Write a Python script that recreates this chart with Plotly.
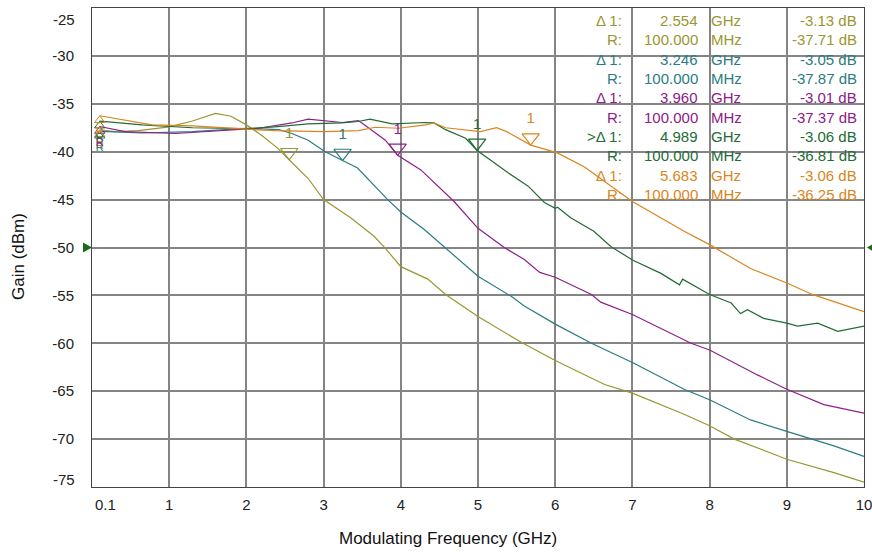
import plotly.graph_objects as go

# ---------------- data ----------------
olive_f = [0.1, 0.3, 0.6, 1.0, 1.3, 1.6, 1.8, 2.0, 2.2, 2.4, 2.554, 2.8, 3.0, 3.35, 3.65, 3.78, 4.0, 4.35, 4.58,
           5.0, 5.56, 6.0, 6.64, 7.0, 7.67, 8.0, 8.32, 9.0, 9.61, 10.0]
olive_db = [-37.71, -37.9, -37.8, -37.4, -36.8, -36.0, -36.3, -37.2, -38.3, -39.6, -40.84, -42.8, -45.0, -46.9, -48.8,
            -49.9, -52.0, -53.3, -54.9, -57.2, -59.9, -61.8, -64.3, -65.2, -67.4, -68.6, -70.0, -72.1, -73.5, -74.5]

teal_f = [0.1, 0.65, 1.3, 2.0, 2.42, 2.59, 2.8, 3.02, 3.246, 3.44, 3.83, 4.0, 4.3, 4.6, 5.0, 5.43, 5.6, 6.0, 6.47,
          7.0, 7.67, 8.0, 8.53, 9.0, 9.61, 10.0]
teal_db = [-37.87, -38.05, -37.9, -37.55, -37.7, -38.1, -38.8, -40.0, -40.92, -41.7, -45.0, -46.3, -48.1, -50.2, -53.0,
           -55.1, -56.1, -58.0, -60.0, -62.0, -64.8, -65.9, -68.0, -69.2, -70.7, -71.8]

purple_f = [0.1, 0.43, 1.08, 1.73, 2.16, 2.59, 2.8, 3.24, 3.45, 3.58, 3.8, 3.96, 4.26, 4.69, 5.0, 5.34, 5.6, 5.8, 6.0,
            6.47, 6.59, 7.0, 7.41, 7.76, 8.0, 8.62, 9.0, 9.48, 10.0]
purple_db = [-37.37, -37.9, -38.1, -37.8, -37.55, -37.0, -36.6, -36.95, -36.75, -37.5, -38.8, -40.38, -41.9, -45.2,
             -48.0, -50.0, -51.25, -52.6, -53.1, -54.9, -55.7, -57.0, -58.6, -60.0, -60.7, -63.3, -64.8, -66.4, -67.3]

green_f = [0.1, 0.65, 1.3, 2.0, 2.37, 2.8, 3.24, 3.45, 3.6, 3.89, 4.32, 4.43, 4.58, 4.84, 4.989, 5.39, 5.65, 5.86,
           6.0, 6.03, 6.2, 6.5, 6.72, 7.0, 7.37, 7.61, 7.65, 8.0, 8.28, 8.4, 8.49, 8.7, 9.0, 9.14, 9.4, 9.66, 10.0]
green_db = [-36.81, -37.2, -37.5, -37.6, -37.4, -37.1, -37.0, -36.85, -36.6, -37.1, -36.95, -37.0, -37.7, -38.6,
            -39.87, -42.2, -43.6, -45.3, -45.9, -45.8, -46.9, -48.3, -49.9, -51.3, -52.7, -53.9, -53.3, -54.9, -55.8,
            -56.9, -56.5, -57.4, -57.9, -58.2, -57.9, -58.75, -58.2]

orange_f = [0.1, 0.43, 0.78, 1.3, 1.73, 2.0, 2.37, 3.0, 3.45, 3.67, 3.97, 4.32, 4.43, 4.58, 5.03, 5.24, 5.37, 5.683,
            6.02, 6.38, 7.0, 7.67, 8.0, 8.53, 9.0, 9.33, 10.0]
orange_db = [-36.25, -36.7, -37.2, -37.3, -37.55, -37.65, -37.8, -37.9, -37.8, -37.45, -37.55, -37.2, -37.0, -37.5,
             -37.9, -37.5, -37.9, -39.31, -40.1, -41.6, -45.2, -48.3, -49.7, -52.2, -53.7, -54.9, -56.7]

marker_freqs = [2.554, 3.246, 3.960, 4.989, 5.683]      # GHz
marker_deltas = [-3.13, -3.05, -3.01, -3.06, -3.06]     # dB
ref_levels = [-37.71, -37.87, -37.37, -36.81, -36.25]   # dB at reference
ref_freq_mhz = 100.0
ref_line_db = -50
delta_prefix = ["Δ 1:", "Δ 1:", "Δ 1:", ">Δ 1:", "Δ 1:"]

x_ticks = [1, 2, 3, 4, 5, 6, 7, 8, 9, 10]
x_start_label = "0.1"
y_ticks = [-30, -35, -40, -45, -50, -55, -60, -65, -70]
y_edge_ticks = [-25, -75]

# ---------------- style ----------------
colors = ["#9a9632", "#2a7c82", "#8e2088", "#236b36", "#d9861c"]
curves = [(olive_f, olive_db), (teal_f, teal_db), (purple_f, purple_db), (green_f, green_db), (orange_f, orange_db)]

W, H = 872, 552
ML, MR, MT, MB = 92, 8, 8, 65
PW, PH = W - ML - MR, H - MT - MB
YMIN, YMAX = -75, -25
px_per_db = PH / (YMAX - YMIN)
FONT = "Liberation Sans, Arial, sans-serif"


def px_to_paper_x(px):
    return (px - ML) / PW


def py_to_paper_y(py):
    return 1 - (py - MT) / PH


fig = go.Figure()

for (f, d), c in zip(curves, colors):
    fig.add_trace(go.Scatter(x=f, y=d, mode="lines", line=dict(color=c, width=1.2),
                             hoverinfo="skip", showlegend=False))

# delta markers (open down-triangles, tip on the trace) with "1" labels
MSIZE = 15
for fm, dl, rl, c in zip(marker_freqs, marker_deltas, ref_levels, colors):
    y_tip = rl + dl
    fig.add_trace(go.Scatter(
        x=[fm], y=[y_tip + (MSIZE / 2) / px_per_db], mode="markers+text",
        marker=dict(symbol="triangle-down-open", size=MSIZE, color=c, line=dict(width=1.2, color=c)),
        text=["1"], textposition="top center", textfont=dict(family=FONT, size=15, color=c),
        hoverinfo="skip", showlegend=False, cliponaxis=False))

# reference markers at start frequency
RSIZE = 9
for rl, (f, d), c in zip(ref_levels, curves, colors):
    fig.add_trace(go.Scatter(
        x=[f[0]], y=[rl - (RSIZE / 2) / px_per_db], mode="markers+text",
        marker=dict(symbol="triangle-up-open", size=RSIZE, color=c, line=dict(width=1, color=c)),
        text=["R"], textposition="bottom center", textfont=dict(family=FONT, size=11, color=c),
        hoverinfo="skip", showlegend=False, cliponaxis=False))

annotations = []
# marker table
col_label_px, col_val_px, col_unit_px, col_db_px = 624, 700, 709, 859
row0_py, row_step = 20.5, 19.35
for i, (fm, dl, rl, c, pre) in enumerate(zip(marker_freqs, marker_deltas, ref_levels, colors, delta_prefix)):
    rows = [(pre, f"{fm:.3f}", "GHz", f"{dl:.2f} dB"),
            ("R:", f"{ref_freq_mhz:.3f}", "MHz", f"{rl:.2f} dB")]
    for j, (lab, val, unit, db) in enumerate(rows):
        py = row0_py + (2 * i + j) * row_step
        yp = py_to_paper_y(py)
        for txt, px, anc in [(lab, col_label_px, "right"), (val, col_val_px, "right"),
                             (unit, col_unit_px, "left"), (db, col_db_px, "right")]:
            annotations.append(dict(text=txt, x=px_to_paper_x(px), y=yp, xref="paper", yref="paper",
                                    xanchor=anc, yanchor="middle", showarrow=False,
                                    font=dict(family=FONT, size=15, color=c)))

# edge y tick labels (shifted inward like the instrument)
for v, py in zip(y_edge_ticks, [19, 479]):
    annotations.append(dict(text=str(v), x=0, y=py_to_paper_y(py), xref="paper", yref="paper",
                            xanchor="right", yanchor="middle", xshift=-15, showarrow=False,
                            font=dict(family=FONT, size=15, color="#222")))
# start-frequency label
annotations.append(dict(text=x_start_label, x=px_to_paper_x(105), y=py_to_paper_y(505), xref="paper", yref="paper",
                        xanchor="center", yanchor="middle", showarrow=False,
                        font=dict(family=FONT, size=15, color="#222")))
# axis titles
annotations.append(dict(text="Modulating Frequency (GHz)", x=px_to_paper_x(448), y=py_to_paper_y(538),
                        xref="paper", yref="paper", xanchor="center", yanchor="middle", showarrow=False,
                        font=dict(family=FONT, size=17, color="#111")))
annotations.append(dict(text="Gain (dBm)", x=px_to_paper_x(18), y=py_to_paper_y(257), textangle=-90,
                        xref="paper", yref="paper", xanchor="center", yanchor="middle", showarrow=False,
                        font=dict(family=FONT, size=17, color="#111")))

# reference level arrows (green) on both sides, just outside the plot frame
ref_paper_y = (ref_line_db - YMIN) / (YMAX - YMIN)
shapes = [
    dict(type="path", xref="paper", yref="paper", xsizemode="pixel", ysizemode="pixel", xanchor=0,
         yanchor=ref_paper_y, path="M-9,-5 L0,0 L-9,5 Z", fillcolor="#1a6a1a", line=dict(width=0)),
    dict(type="path", xref="paper", yref="paper", xsizemode="pixel", ysizemode="pixel", xanchor=1,
         yanchor=ref_paper_y, path="M11,-5 L3,0 L11,5 Z", fillcolor="#1a6a1a", line=dict(width=0)),
]

fig.update_layout(
    width=W, height=H, autosize=False,
    margin=dict(l=ML, r=MR, t=MT, b=MB, pad=0, autoexpand=False),
    paper_bgcolor="white", plot_bgcolor="white",
    font=dict(family=FONT, size=15, color="#222"),
    annotations=annotations, shapes=shapes, showlegend=False,
    xaxis=dict(range=[0, 10], tickvals=x_ticks, ticktext=[str(v) for v in x_ticks], automargin=False,
               showgrid=True, gridcolor="#858585", gridwidth=1.5, zeroline=False,
               showline=True, linecolor="#444", linewidth=1, mirror=True, ticklabeloverflow="allow",
               ticks="", ticklabelstandoff=4, tickfont=dict(family=FONT, size=15, color="#222")),
    yaxis=dict(range=[YMIN, YMAX], tickvals=y_ticks, ticktext=[str(v) for v in y_ticks], automargin=False,
               showgrid=True, gridcolor="#858585", gridwidth=1.5, zeroline=False,
               showline=True, linecolor="#444", linewidth=1, mirror=True,
               ticks="", ticklabelstandoff=14, tickfont=dict(family=FONT, size=15, color="#222")),
)

fig.write_html("out.html", config={"displayModeBar": False},
               post_script="document.body.style.margin='0px';document.body.style.overflow='hidden';")
